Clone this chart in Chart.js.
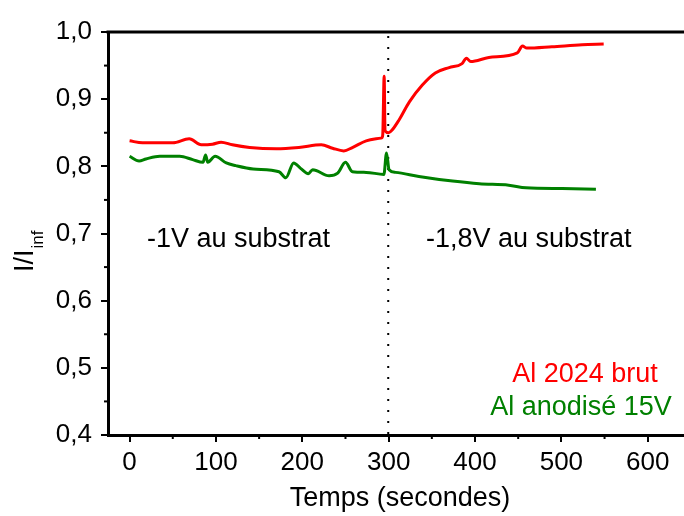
<!DOCTYPE html>
<html>
<head>
<meta charset="utf-8">
<script src="https://cdn.jsdelivr.net/npm/chart.js@4.4.1/dist/chart.umd.min.js"></script>
<style>
    body { margin: 0; background: #fff; }
</style>
</head>
<body>
<canvas id="myChart" width="684" height="516"></canvas>
<script>
// Al 2024 brut (red)
let brutTime  = [0, 15, 50, 69, 83, 96, 106, 119, 139, 170, 196, 222, 235, 248, 258, 274, 291, 292.5, 293.2, 294.8, 295.8,
                 300, 304, 312, 324, 339, 354, 370, 385, 390, 395, 416, 449, 455, 460, 489, 524, 549];
let brutValue = [0.838, 0.835, 0.835, 0.841, 0.832, 0.833, 0.836, 0.832, 0.828, 0.826, 0.828, 0.832, 0.827, 0.823, 0.828, 0.838, 0.842, 0.843, 0.848, 0.934, 0.853,
                 0.850, 0.854, 0.869, 0.896, 0.921, 0.939, 0.947, 0.953, 0.961, 0.956, 0.962, 0.969, 0.979, 0.976, 0.978, 0.981, 0.982];

// Al anodisé 15V (green)
let anodTime  = [0, 11, 19, 35, 58, 73, 85, 88, 90.5, 99, 112, 123, 143, 173, 181, 190, 198, 207, 212, 231, 241, 250, 258, 274,
                 294.5, 297.5, 300.5, 308, 335, 374, 405, 439, 459, 501, 540];
let anodValue = [0.815, 0.808, 0.811, 0.815, 0.815, 0.810, 0.806, 0.817, 0.806, 0.815, 0.805, 0.801, 0.796, 0.792, 0.783, 0.805, 0.797, 0.789, 0.795, 0.786, 0.790, 0.806, 0.792, 0.791,
                 0.788, 0.820, 0.795, 0.791, 0.785, 0.778, 0.774, 0.772, 0.768, 0.767, 0.766];

let xTicks = [0, 100, 200, 300, 400, 500, 600];
let xMinor = [50, 150, 250, 350, 450, 550];
let yMinor = [0.45, 0.55, 0.65, 0.75, 0.85, 0.95];
let switchTime = 299.5;

const FONT = '"Liberation Sans", Arial, sans-serif';

function toPoints(ts, vs){
    return ts.map((t, i) => ({x: t, y: vs[i]}));
}

// dotted line, frame top, minor ticks and all free text
const extras = {
    id: 'extras',
    beforeDatasetsDraw(chart){
        const c = chart.ctx, a = chart.chartArea;
        const px = chart.scales.x.getPixelForValue(switchTime);
        c.save();
        c.strokeStyle = '#000';
        c.lineWidth = 2;
        c.setLineDash([2, 9]);
        c.beginPath();
        c.moveTo(px, a.top + 4);
        c.lineTo(px, a.bottom);
        c.stroke();
        c.restore();
    },
    afterDraw(chart){
        const c = chart.ctx, a = chart.chartArea;
        const sx = chart.scales.x, sy = chart.scales.y;
        c.save();
        c.strokeStyle = '#000';
        c.lineWidth = 3;
        c.beginPath();
        c.moveTo(a.left - 1.5, a.top);
        c.lineTo(a.right, a.top);
        c.stroke();

        c.lineWidth = 2;
        xMinor.forEach(v => {
            const p = sx.getPixelForValue(v);
            c.beginPath(); c.moveTo(p, a.bottom); c.lineTo(p, a.bottom + 4); c.stroke();
        });
        yMinor.forEach(v => {
            const p = sy.getPixelForValue(v);
            c.beginPath(); c.moveTo(a.left, p); c.lineTo(a.left - 4, p); c.stroke();
        });

        c.fillStyle = '#000';
        c.font = '27px ' + FONT;
        c.textBaseline = 'alphabetic';
        c.textAlign = 'left';
        c.fillText('-1V au substrat', 147, 247);
        c.fillText('-1,8V au substrat', 426, 247);

        c.textAlign = 'center';
        c.fillText('Temps (secondes)', 400, 506);

        c.fillStyle = '#ff0000';
        c.fillText('Al 2024 brut', 585, 382);
        c.fillStyle = '#008000';
        c.fillText('Al anodisé 15V', 581, 415);

        // y title I/I_inf
        c.fillStyle = '#000';
        c.translate(33, 272);
        c.rotate(-Math.PI / 2);
        c.textAlign = 'left';
        c.font = '27px ' + FONT;
        c.fillText('I/I', 0, 0);
        const w = c.measureText('I/I').width;
        c.font = '17px ' + FONT;
        c.fillText('inf', w + 1, 10);
        c.restore();
    }
};

let ctx = document.getElementById('myChart');

let myChart = new Chart(ctx, {
    type: 'line',
    data: {
        datasets: [{
            label: 'Al 2024 brut',
            data: toPoints(brutTime, brutValue),
            borderColor: '#ff0000',
            borderWidth: 3,
            pointRadius: 0,
            cubicInterpolationMode: 'monotone'
        }, {
            label: 'Al anodisé 15V',
            data: toPoints(anodTime, anodValue),
            borderColor: '#008000',
            borderWidth: 3,
            pointRadius: 0,
            cubicInterpolationMode: 'monotone'
        }]
    },
    options: {
        responsive: false,
        animation: false,
        layout: { padding: { top: 32, left: 0, right: 0, bottom: 0 } },
        plugins: { legend: { display: false }, tooltip: { enabled: false } },
        scales: {
            x: {
                type: 'linear',
                min: -25,
                max: 642,
                afterBuildTicks: s => { s.ticks = xTicks.map(v => ({value: v})); },
                afterFit: s => { s.height = 81; },
                grid: { drawOnChartArea: false, drawTicks: true, tickLength: 7, color: '#000', lineWidth: 2 },
                border: { display: true, color: '#000', width: 3 },
                ticks: { color: '#000', font: { size: 26, family: FONT }, padding: 5, maxRotation: 0 }
            },
            y: {
                min: 0.4,
                max: 1.0,
                afterFit: s => { s.width = 108; },
                grid: { drawOnChartArea: false, drawTicks: true, tickLength: 7, color: '#000', lineWidth: 2 },
                border: { display: true, color: '#000', width: 3 },
                ticks: {
                    stepSize: 0.1,
                    color: '#000',
                    font: { size: 26, family: FONT },
                    padding: 9,
                    callback: v => v.toFixed(1).replace('.', ',')
                }
            }
        }
    },
    plugins: [extras]
});
</script>
</body>
</html>
